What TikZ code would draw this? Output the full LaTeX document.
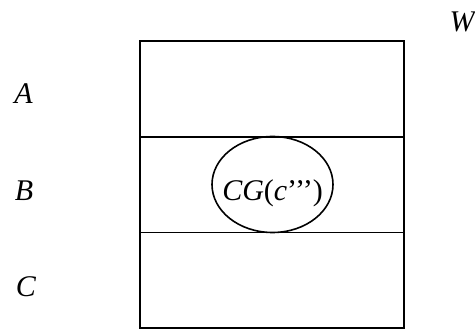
\documentclass[tikz,border=0pt]{standalone}
\usepackage{fontspec}
\setmainfont{Liberation Serif}
\usetikzlibrary{positioning,shapes.geometric}
\tikzset{
  lv-band/.style={draw,line width=1.8pt,minimum width=264pt,minimum height=95.75pt,inner sep=0pt,outer sep=0pt},
  lv-set/.style={draw,ellipse,line width=1.6pt,minimum width=121pt,minimum height=96pt,inner sep=0pt,font=\lvfont},
  lv-lbl/.style={inner sep=0pt,font=\lvfont\itshape},
}
\newcommand{\lvfont}{\fontsize{30}{36}\selectfont}
\begin{document}
\begin{tikzpicture}[x=1pt,y=-1pt]
  \useasboundingbox (0,0) rectangle (475,329);

  % the three layers
  \node[lv-band] (rowA) at (272,88.9) {};
  \node[lv-band,below=0pt of rowA] (rowB) {};
  \node[lv-band,below=0pt of rowB] (rowC) {};

  % set inside the middle layer
  \node[lv-set] (cg) at (272.5,184.5)
    {\smash{\makebox[0pt]{\raisebox{-16pt}{\textit{CG}(\textit{c}’’’)}}}};

  % layer labels
  \node[lv-lbl] (lblA) at (23.5,93.5) {A};
  \node[lv-lbl] (lblB) at (24,191) {B};
  \node[lv-lbl] (lblC) at (26,287) {C};
  \node[lv-lbl] (lblW) at (462,22) {W};
\end{tikzpicture}
\end{document}
